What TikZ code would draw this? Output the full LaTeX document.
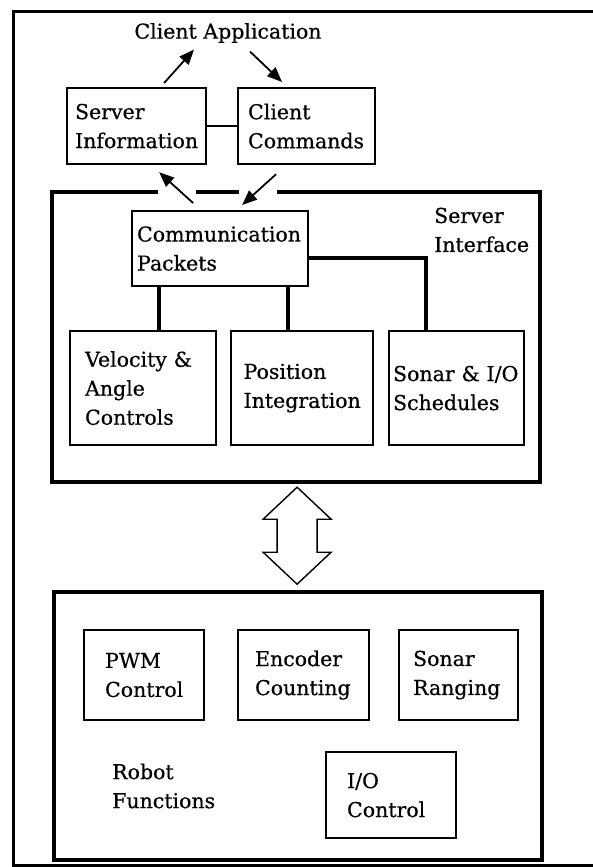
\documentclass[tikz,border=0pt]{standalone}
\usepackage{fontspec}
\setmainfont{DejaVu Serif}[FakeBold=0.6]
\usetikzlibrary{arrows.meta,calc}

\begin{document}
\begin{tikzpicture}[x=1pt,y=-1pt,
  font=\fontsize{20.5}{29}\selectfont,
  blk/.style={draw,line width=2.2pt,anchor=north west,align=left,inner ysep=0pt},
  frame/.style={line width=4pt},
  wire/.style={line width=3.4pt},
  flow/.style={-{Triangle[length=15pt,width=12pt]},line width=1.8pt}
]
\useasboundingbox (0,0) rectangle (593,867);
\draw[line width=3pt] (593,12) -- (13,12) -- (13,865) -- (593,865);

\node[inner sep=0pt] (app) at (228,33) {Client Application};
\node[blk,text width=123pt,inner xsep=8pt,minimum height=76pt] (info) at (66,87) {Server\\Information};
\node[blk,text width=117pt,inner xsep=10pt,minimum height=76pt] (cmds) at (237,87) {Client\\Commands};
\draw[line width=1.6pt] (info.east) -- (cmds.west);

% server side
\node[anchor=north west,inner sep=0pt,minimum width=488pt,minimum height=290pt] (srv) at (52,192) {};
\draw[frame] ([xshift=106pt]srv.north west) -- (srv.north west) -- (srv.south west)
  -- (srv.south east) -- (srv.north east) -- ([xshift=-263pt]srv.north east);
\draw[frame] ([xshift=144pt]srv.north west) -- ([xshift=187pt]srv.north west);
\node[anchor=west,align=left,inner sep=0pt] (srvlbl) at (434,230) {Server\\Interface};

\node[blk,text width=166pt,inner xsep=5pt,minimum height=75pt] (comm) at (131,210) {Communication\\Packets};
\node[blk,text width=116pt,inner xsep=15pt,minimum height=114pt] (vel) at (69,330) {Velocity \&\\Angle\\Controls};
\node[blk,text width=117pt,inner xsep=12.5pt,minimum height=114pt] (pos) at (230,330) {Position\\Integration};
\node[blk,text width=127pt,inner xsep=4pt,minimum height=114pt] (son) at (388,330) {Sonar \& I/O\\Schedules};

\draw[wire] ([xshift=-61pt]comm.south) -- ([xshift=-61pt]comm.south |- vel.north);
\draw[wire] ([xshift=68pt]comm.south) -- ([xshift=68pt]comm.south |- pos.north);
\draw[wire] ([yshift=-9.5pt]comm.east) -| ([xshift=-30.5pt]son.north);

\draw[flow] ([xshift=27.5pt,yshift=4pt]info.north) -- ([xshift=-34pt,yshift=-6.5pt]app.south);
\draw[flow] ([xshift=22pt,yshift=-8.5pt]app.south) -- ([xshift=-24.5pt,yshift=5pt]cmds.north);
\draw[flow] ([xshift=-27pt,yshift=7pt]comm.north) -- ([xshift=22.5pt,yshift=-7pt]info.south);
\draw[flow] ([xshift=-30.5pt,yshift=-9pt]cmds.south) -- ([xshift=22pt,yshift=5pt]comm.north);

% robot side
\node[draw,frame,anchor=north west,inner sep=0pt,minimum width=488pt,minimum height=268pt] (robot) at (52,590) {};
\node[anchor=west,align=left,inner sep=0pt] (robotlbl) at (112,786) {Robot\\Functions};
\node[blk,text width=78pt,inner xsep=21pt,minimum height=90pt] (pwm) at (83,629) {PWM\\Control};
\node[blk,text width=97pt,inner xsep=17pt,minimum height=90pt] (enc) at (237,629) {Encoder\\Counting};
\node[blk,text width=91pt,inner xsep=14pt,minimum height=90pt] (rng) at (398,629) {Sonar\\Ranging};
\node[blk,text width=88pt,inner xsep=21pt,minimum height=86pt] (io) at (325,751) {I/O\\Control};

\coordinate (mid) at ($(srv.south)!0.5!(robot.north)$);
\draw[line width=1.4pt,line join=miter] ($(mid)+(0,-49)$) -- ++(34,32) -- ++(-14,0) -- ++(0,33)
  -- ++(14,0) -- ++(-34,32) -- ++(-34,-32) -- ++(14,0) -- ++(0,-33) -- ++(-14,0) -- cycle;
\end{tikzpicture}
\end{document}
